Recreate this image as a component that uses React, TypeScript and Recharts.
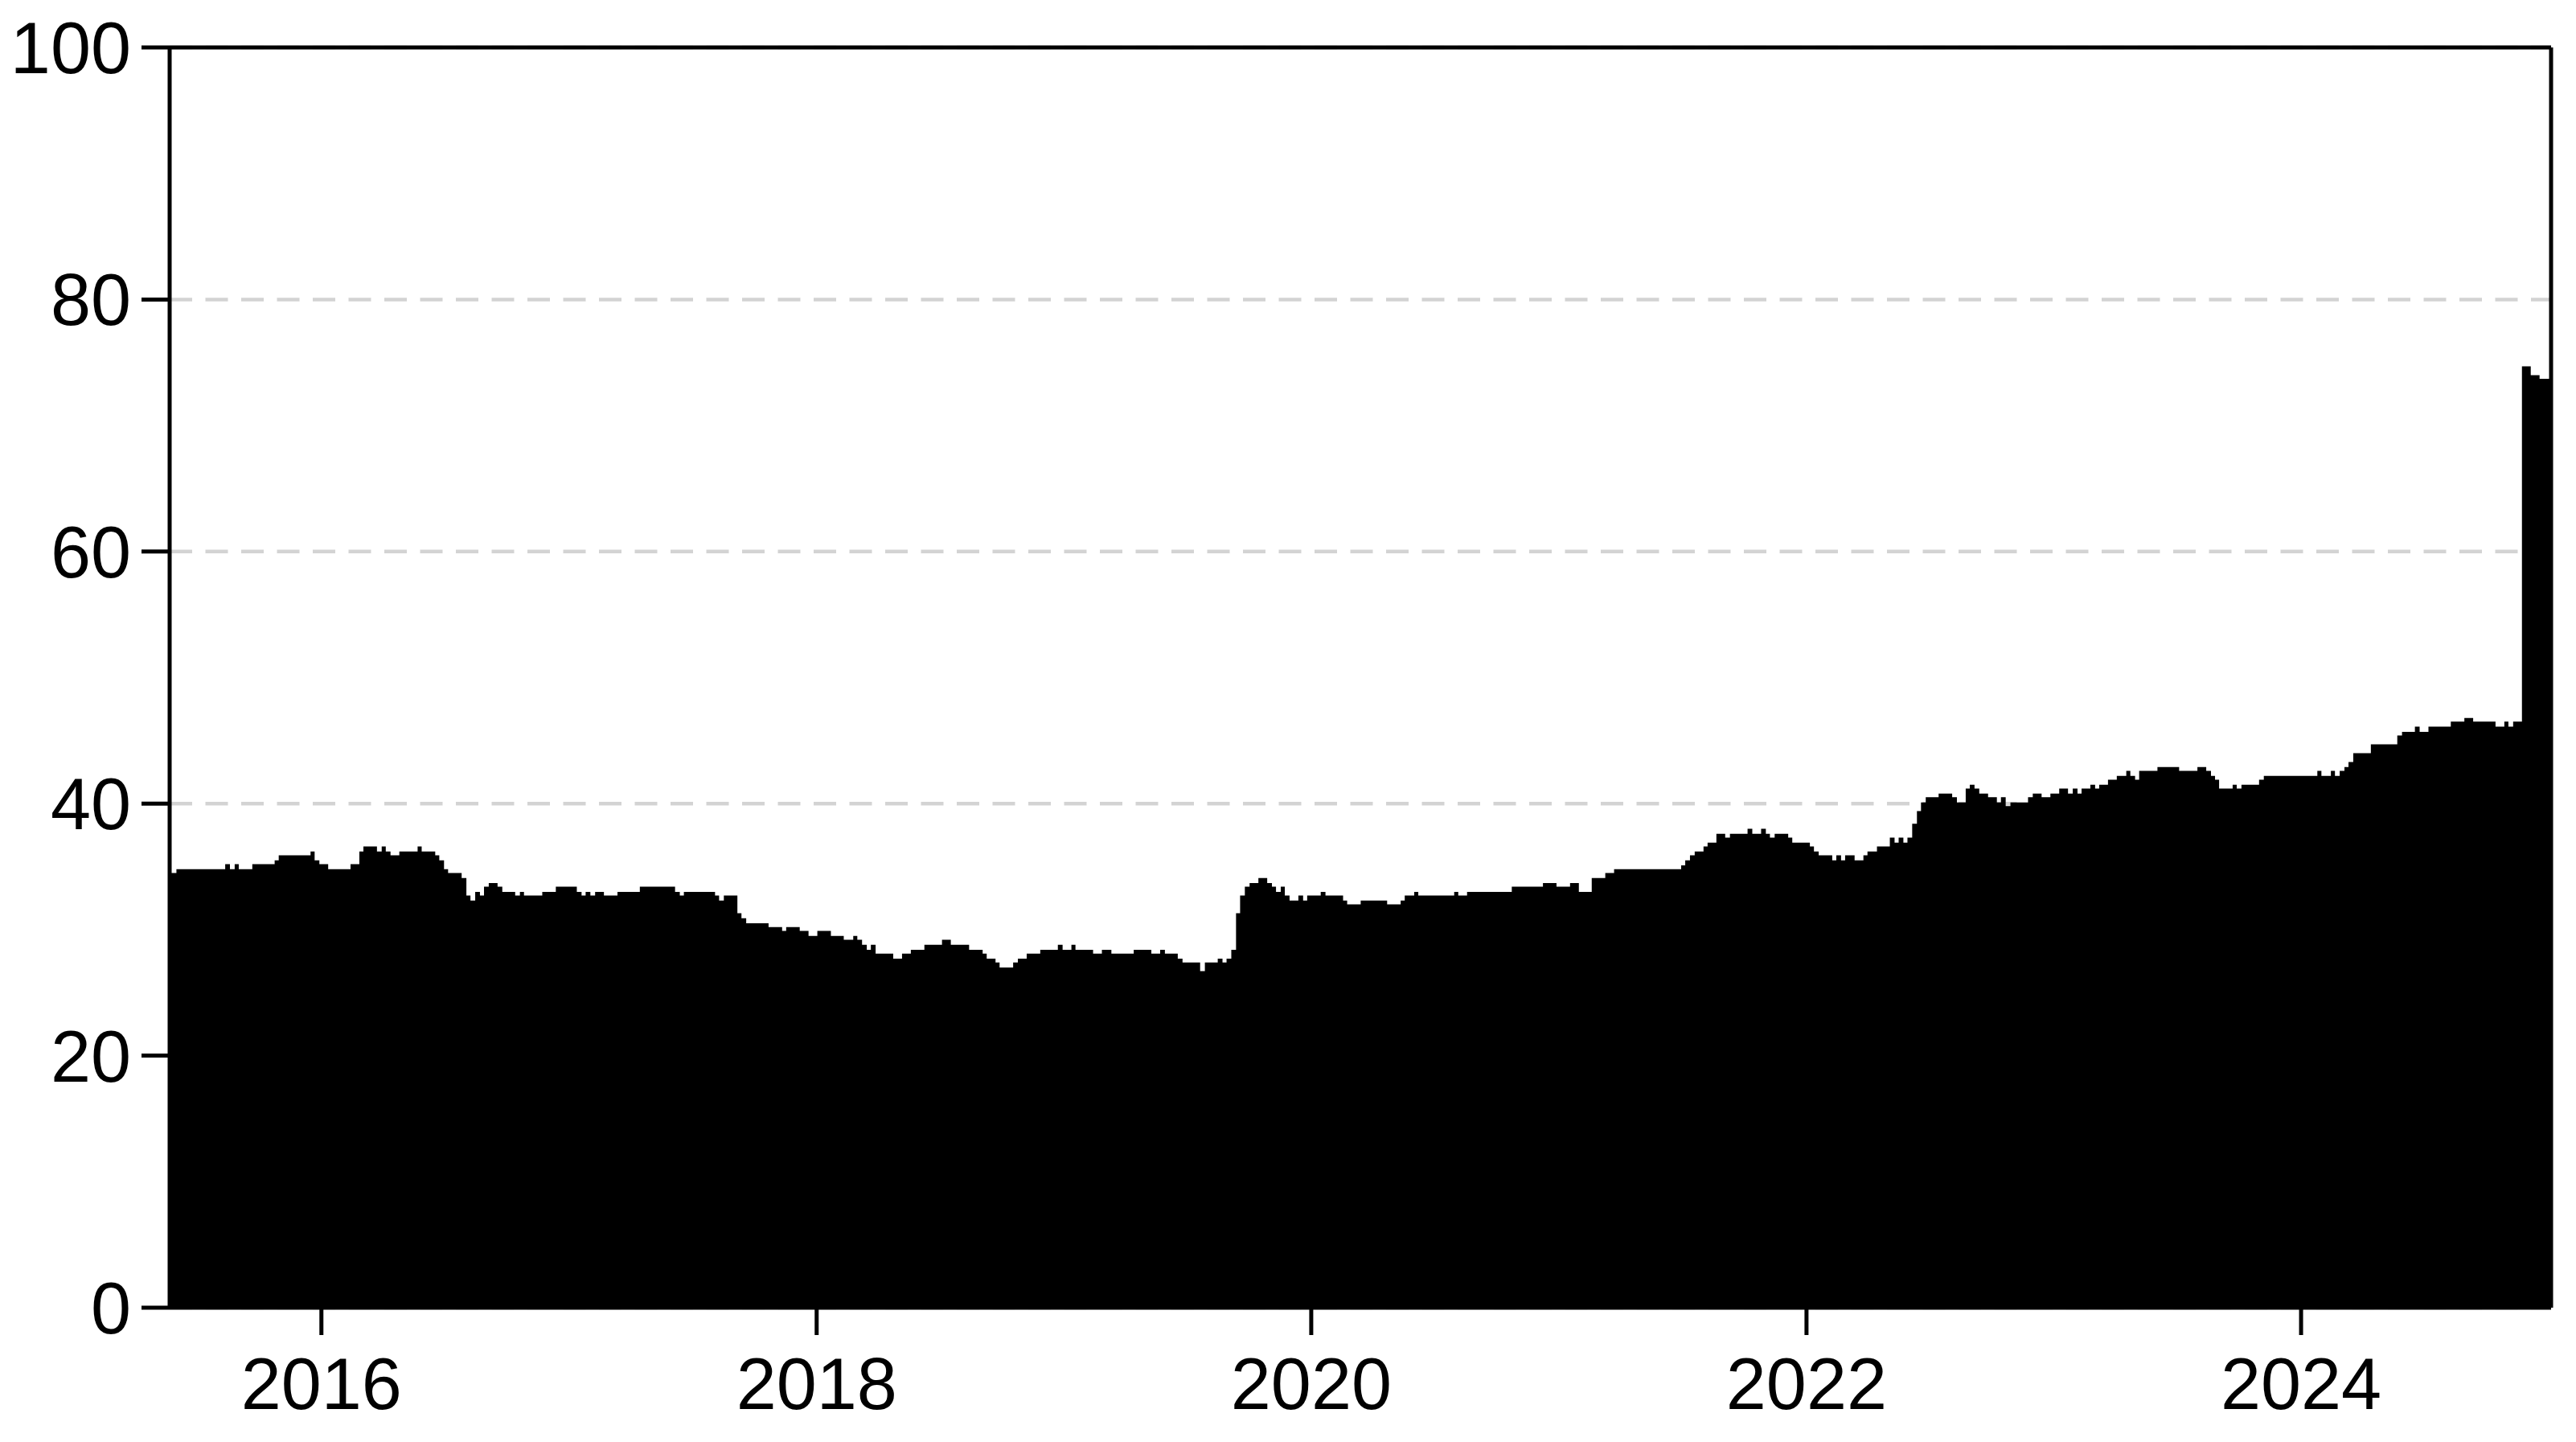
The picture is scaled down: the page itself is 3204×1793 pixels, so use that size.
import React from 'react';
import { AreaChart, Area, XAxis, YAxis, CartesianGrid } from 'recharts';

// Series start date (UTC) and last day of the plotted range (days after start)
const START_YEAR = 2015;
const START_MONTH = 4; // May (0-based)
const START_DAY = 22;
const END_DAY_OFFSET = 3515;

// Weekly step series, stored as change points: day offset from start, and value from that day on
const stepDays = [
  0, 10, 82, 89, 96, 102, 122, 155, 161, 208, 214, 221, 234, 267, 280, 286, 306, 313, 319, 326, 339, 366, 372, 392, 398, 405, 411, 431, 438, 444, 451, 458, 464, 471, 484, 491, 510, 517, 523, 550, 570, 601,
  608, 614, 621, 628, 641, 661, 694, 746, 753, 759, 805, 811, 818, 838, 844, 851, 884, 904, 910, 930, 943, 956, 976, 995, 1009, 1015, 1022, 1029, 1035, 1042, 1068, 1081, 1094, 1114, 1140, 1153, 1180, 1200, 1206,
  1219, 1225, 1245, 1252, 1265, 1285, 1311, 1318, 1331, 1337, 1363, 1376, 1390, 1423, 1449, 1462, 1469, 1488, 1495, 1521, 1528, 1547, 1554, 1560, 1567, 1574, 1580, 1587, 1594, 1607, 1620, 1627, 1633, 1640, 1646, 1653, 1666, 1673, 1679, 1699, 1706, 1732, 1738, 1758, 1797, 1817,
  1823, 1837, 1843, 1896, 1902, 1915, 1981, 2027, 2047, 2067, 2080, 2099, 2119, 2132, 2231, 2237, 2244, 2251, 2264, 2270, 2283, 2296, 2303, 2329, 2336, 2349, 2356, 2362, 2369, 2389, 2395, 2421,
  2427, 2434, 2454, 2460, 2467, 2473, 2487, 2500, 2506, 2520, 2539, 2546, 2552, 2559, 2565, 2572, 2579, 2585, 2592, 2611, 2631, 2638, 2651, 2657, 2664, 2671, 2684, 2697, 2703, 2710, 2717, 2743, 2750, 2763, 2776, 2789, 2802, 2809, 2816, 2822, 2835, 2842, 2848, 2861, 2874, 2888, 2894, 2901, 2907, 2934, 2966, 2993, 3006, 3013, 3019, 3025,
  3045, 3051, 3058, 3084, 3091, 3170, 3176, 3190, 3196, 3203, 3210, 3216, 3223, 3249, 3288, 3295, 3314, 3321, 3334, 3367, 3387, 3400, 3433, 3446, 3452, 3459, 3472, 3485, 3498,
];

const stepValues = [
  34.5, 34.8, 35.2, 34.8, 35.2, 34.8, 35.2, 35.5, 35.9, 36.2, 35.5, 35.2, 34.8, 35.2, 36.2, 36.6, 36.2, 36.6, 36.2, 35.9, 36.2, 36.6, 36.2, 35.9, 35.5, 34.8, 34.5, 34.1, 32.7, 32.3, 33.0, 32.7, 33.4, 33.7, 33.4, 33.0, 32.7, 33.0, 32.7, 33.0, 33.4, 33.0,
  32.7, 33.0, 32.7, 33.0, 32.7, 33.0, 33.4, 33.0, 32.7, 33.0, 32.7, 32.3, 32.7, 31.3, 30.9, 30.5, 30.2, 29.9, 30.2, 29.9, 29.5, 29.9, 29.5, 29.2, 29.5, 29.2, 28.8, 28.4, 28.8, 28.1, 27.7, 28.1, 28.4, 28.8, 29.2, 28.8, 28.4, 28.1, 27.7,
  27.4, 27.0, 27.4, 27.7, 28.1, 28.4, 28.8, 28.4, 28.8, 28.4, 28.1, 28.4, 28.1, 28.4, 28.1, 28.4, 28.1, 27.7, 27.4, 26.7, 27.4, 27.7, 27.4, 27.7, 28.4, 31.3, 32.7, 33.4, 33.7, 34.1, 33.7, 33.4, 33.0, 33.4, 32.7, 32.3, 32.7, 32.3, 32.7, 33.0, 32.7, 32.3, 32.0, 32.3, 32.0, 32.3,
  32.7, 33.0, 32.7, 33.0, 32.7, 33.0, 33.4, 33.7, 33.4, 33.7, 33.0, 34.1, 34.5, 34.8, 35.1, 35.5, 35.9, 36.2, 36.6, 36.9, 37.6, 37.3, 37.6, 38.0, 37.6, 38.0, 37.6, 37.3, 37.6, 37.3, 36.9, 36.6,
  36.2, 35.9, 35.5, 35.9, 35.5, 35.9, 35.5, 35.9, 36.2, 36.6, 37.3, 36.9, 37.3, 36.9, 37.3, 38.4, 39.4, 40.1, 40.5, 40.8, 40.5, 40.1, 41.2, 41.5, 41.2, 40.8, 40.5, 40.1, 40.5, 39.8, 40.1, 40.5, 40.8, 40.5, 40.8, 41.2, 40.8, 41.2, 40.8, 41.2, 41.5, 41.2, 41.5, 41.9, 42.2, 42.6, 42.2, 41.9, 42.6, 42.9, 42.6, 42.9, 42.6, 42.2, 41.9, 41.2,
  41.5, 41.2, 41.5, 41.9, 42.2, 42.6, 42.2, 42.6, 42.2, 42.6, 42.9, 43.3, 44.0, 44.7, 45.4, 45.7, 46.1, 45.7, 46.1, 46.5, 46.8, 46.5, 46.1, 46.5, 46.1, 46.5, 74.7, 74.0, 73.7,
];

const xTickYears = [2016, 2018, 2020, 2022, 2024];
const yTicks = [0, 20, 40, 60, 80, 100];

const DAY_MS = 86400000;
const START_MS = Date.UTC(START_YEAR, START_MONTH, START_DAY);
const END_MS = START_MS + END_DAY_OFFSET * DAY_MS;

const data = stepDays.map((d, i) => ({ t: START_MS + d * DAY_MS, v: stepValues[i] }));
data.push({ t: END_MS, v: stepValues[stepValues.length - 1] });

const xTicks = xTickYears.map((y) => Date.UTC(y, 0, 1));

const FONT = '"Liberation Sans", Arial, sans-serif';
const tickStyle = { fill: '#000', fontSize: 90, fontFamily: FONT };
const lineStyle = { stroke: '#000', strokeWidth: 5 };

export default function App() {
  return (
    <div style={{ position: 'absolute', left: 0, top: 0, width: 3204, height: 1793, background: '#fff' }}>
      <AreaChart
        width={3204}
        height={1793}
        data={data}
        margin={{ top: 58, right: 30, bottom: 0, left: 0 }}
      >
        <CartesianGrid
          vertical={false}
          stroke="#d3d3d3"
          strokeWidth={4.5}
          strokeDasharray="28 16.5"
        />
        <XAxis
          dataKey="t"
          type="number"
          scale="linear"
          domain={[START_MS, END_MS]}
          ticks={xTicks}
          interval={0}
          allowDataOverflow
          height={167}
          tickSize={34}
          tickMargin={28}
          tickFormatter={(t: number) => String(new Date(t).getUTCFullYear())}
          axisLine={lineStyle}
          tickLine={lineStyle}
          tick={tickStyle}
        />
        <XAxis
          xAxisId="top"
          orientation="top"
          dataKey="t"
          type="number"
          scale="linear"
          domain={[START_MS, END_MS]}
          ticks={xTicks}
          allowDataOverflow
          height={1}
          tick={false}
          tickLine={false}
          axisLine={lineStyle}
        />
        <YAxis
          type="number"
          domain={[0, 100]}
          ticks={yTicks}
          interval={0}
          allowDataOverflow
          width={211}
          tickSize={35}
          tickMargin={13}
          axisLine={lineStyle}
          tickLine={lineStyle}
          tick={tickStyle}
        />
        <YAxis
          yAxisId="right"
          orientation="right"
          type="number"
          domain={[0, 100]}
          ticks={yTicks}
          allowDataOverflow
          width={1}
          tick={false}
          tickLine={false}
          axisLine={lineStyle}
        />
        <Area
          dataKey="v"
          type="stepAfter"
          fill="#000"
          fillOpacity={1}
          stroke="none"
          baseValue={0}
          isAnimationActive={false}
          dot={false}
          activeDot={false}
        />
      </AreaChart>
    </div>
  );
}
